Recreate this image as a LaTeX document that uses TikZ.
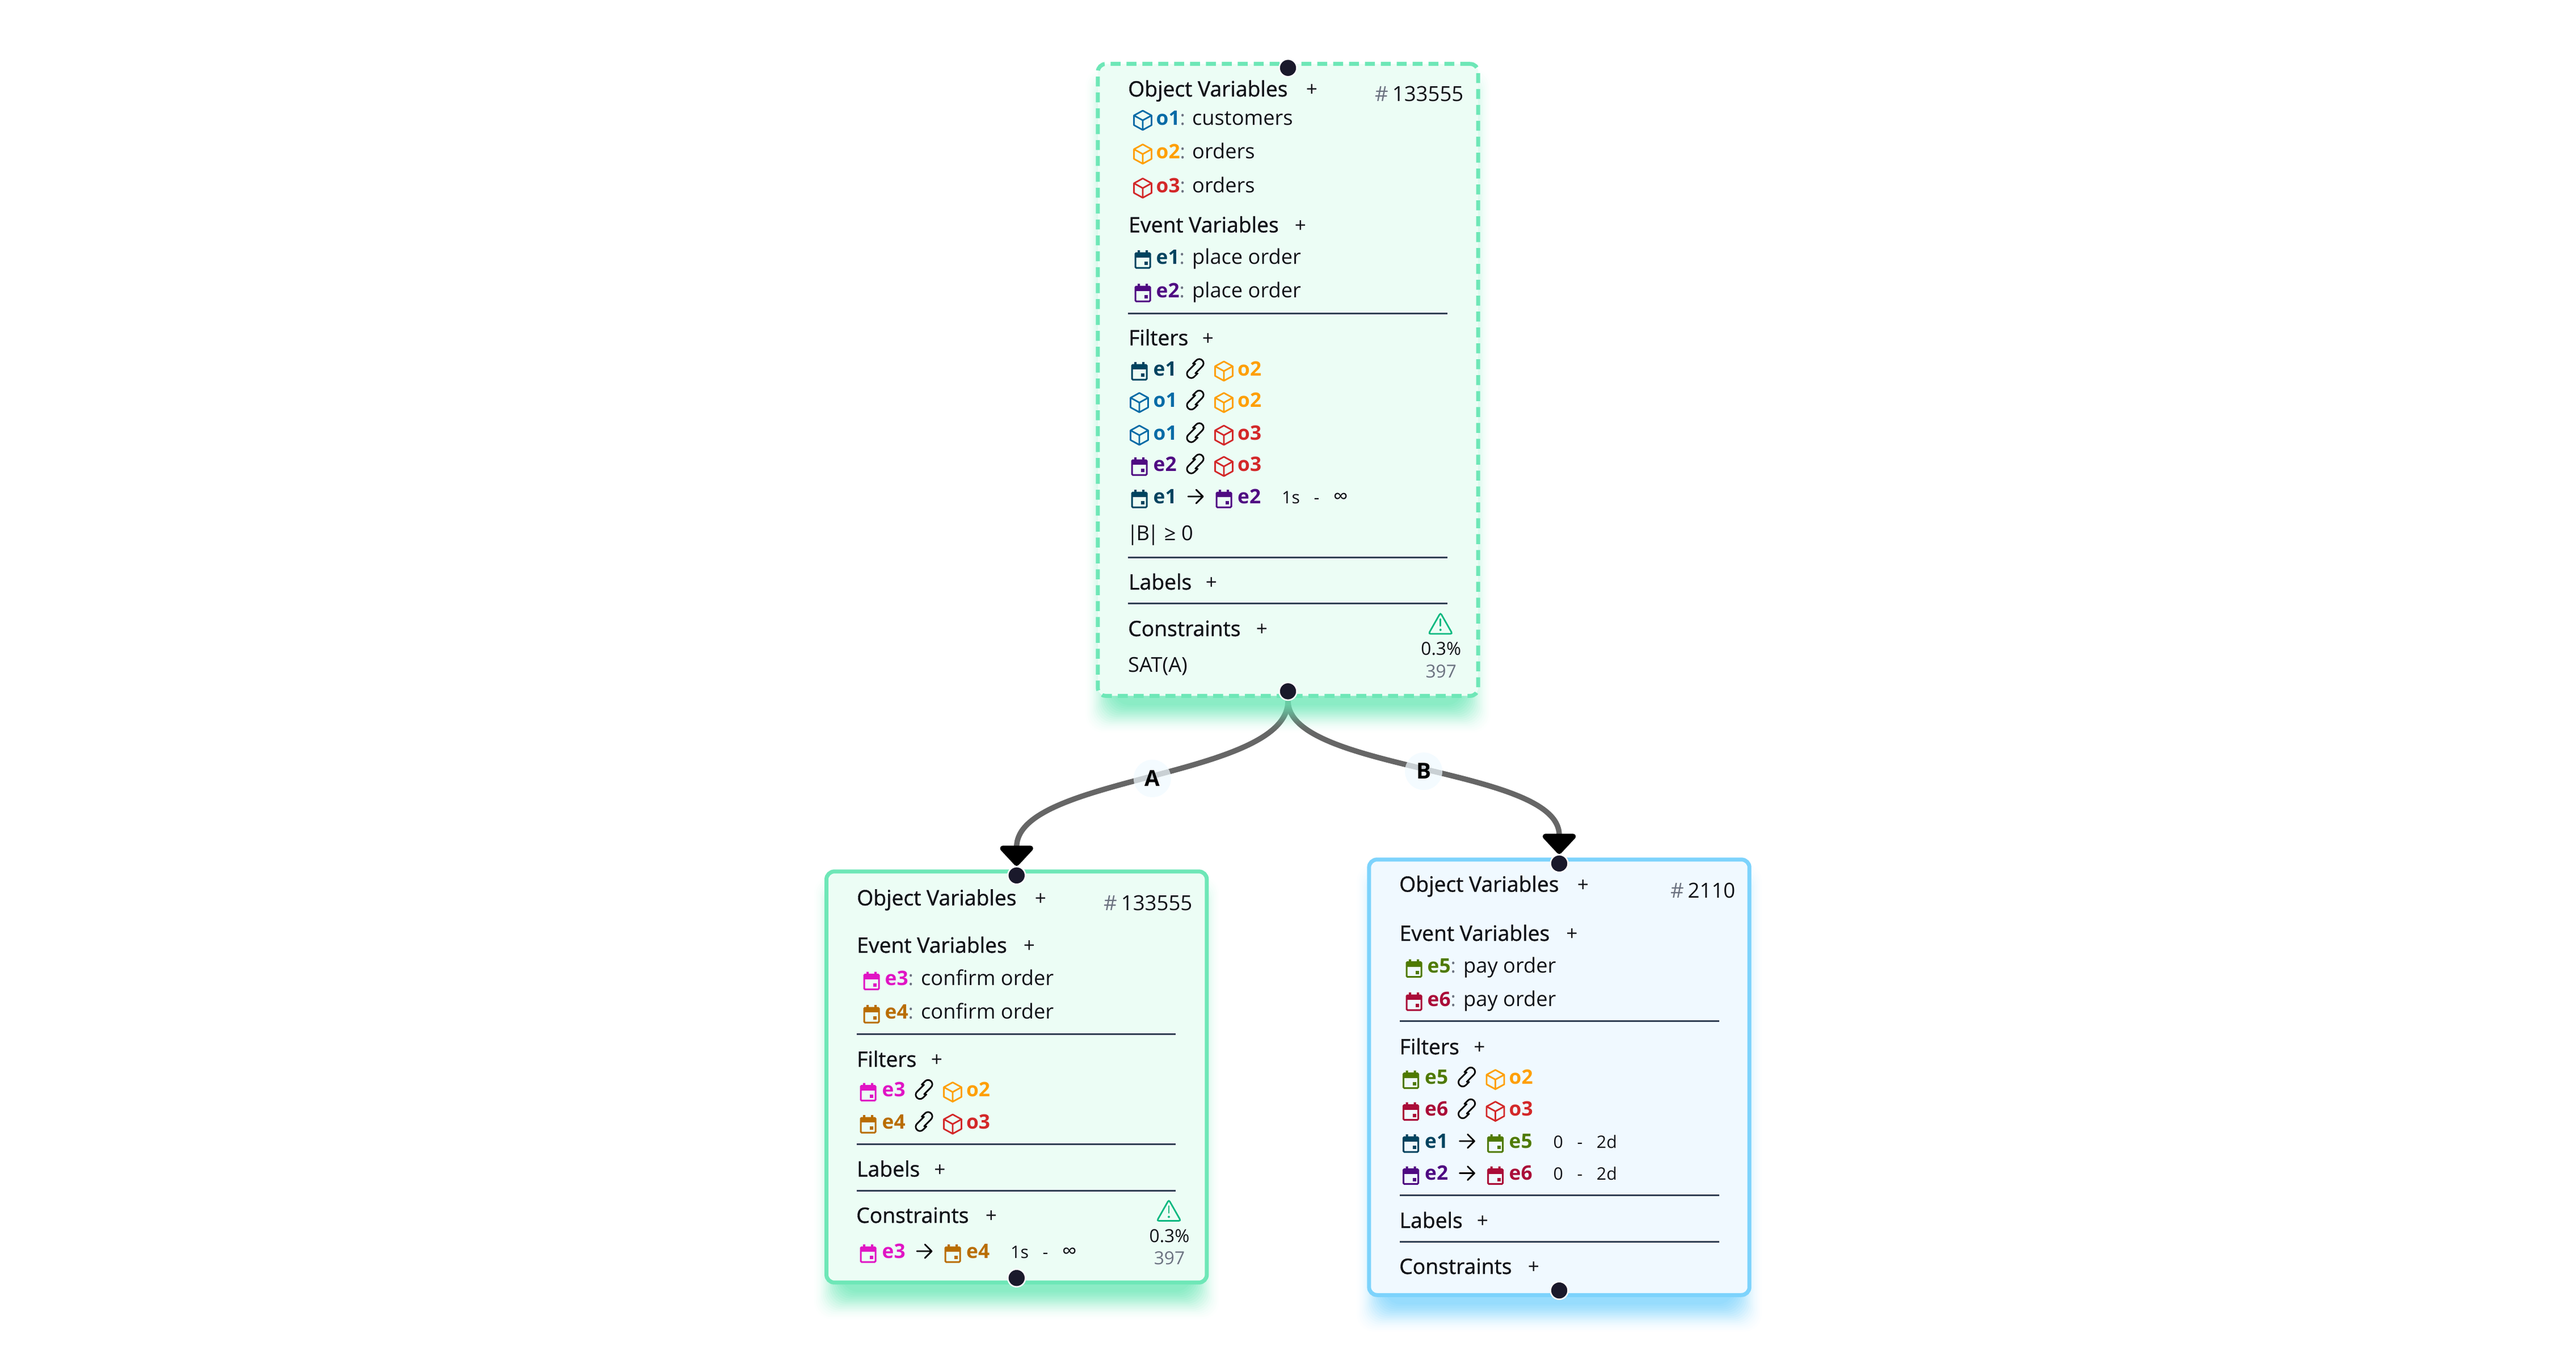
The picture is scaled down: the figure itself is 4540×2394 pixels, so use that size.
\documentclass[tikz,border=0pt]{standalone}
\usepackage{fontspec}
\setmainfont{Open Sans}
\newfontfamily\headfont[FakeBold=1]{Open Sans}
\usetikzlibrary{calc,arrows.meta}
\pgfdeclarelayer{edgelayer}
\pgfdeclarelayer{shadelayer}
\pgfsetlayers{edgelayer,shadelayer,main}
\definecolor{mint}{HTML}{6EE7B7}
\definecolor{mintbg}{HTML}{ECFDF5}
\definecolor{sky}{HTML}{7DD3FC}
\definecolor{skybg}{HTML}{F0F9FF}
\definecolor{ink}{HTML}{111318}
\definecolor{rulecol}{HTML}{334155}
\definecolor{muted}{HTML}{6B7280}
\definecolor{warncol}{HTML}{10B981}
\definecolor{handlecol}{HTML}{1A192B}
\definecolor{edgecol}{HTML}{666666}
\definecolor{o1}{HTML}{036BA6}
\definecolor{o2}{HTML}{FF9F00}
\definecolor{o3}{HTML}{D32829}
\definecolor{e1}{HTML}{00435F}
\definecolor{e2}{HTML}{4F0A82}
\definecolor{e3}{HTML}{E014C4}
\definecolor{e4}{HTML}{B96D00}
\definecolor{e5}{HTML}{4F7A00}
\definecolor{e6}{HTML}{AA0C38}
\tikzset{
  card/.style args={#1,#2}{
    rectangle,
    rounded corners=1.4mm,
    line width=.7mm,
    draw=#1,
    fill=#2,
    minimum width=67mm
  },
  handle/.style={circle,fill=handlecol,draw=white,line width=.25mm,minimum size=3.1mm,inner sep=0pt},
  edge/.style={draw=edgecol,line width=.95mm,-{Triangle[width=6.8mm,length=3.8mm,color=black,fill=black,round]}},
  edgelabel/.style={circle,fill=skybg,fill opacity=.72,text opacity=1,minimum size=6.6mm,inner sep=0pt,
    font=\fontsize{11}{12}\selectfont\bfseries,text=black},
  headtext/.style={anchor=base west,xshift=-.25mm,inner sep=0pt,text=ink,font=\fontsize{10.6}{12}\headfont},
  plustext/.style={inner sep=0pt,text=ink,font=\fontsize{10}{12}\selectfont},
  bodytext/.style={anchor=base west,xshift=-.25mm,inner sep=0pt,text=ink,font=\fontsize{10.3}{12}\selectfont},
  idtext/.style={anchor=base west,xshift=-.25mm,inner sep=0pt,font=\fontsize{10}{12}\selectfont\bfseries},
  timetext/.style={anchor=base west,xshift=-.25mm,inner sep=0pt,text=ink,font=\fontsize{8.6}{10}\selectfont},
  hashtext/.style={anchor=base east,inner sep=0pt,text=ink,font=\fontsize{10.4}{12}\selectfont},
  statstext/.style={anchor=base,inner sep=0pt,text=ink,font=\fontsize{9}{10}\selectfont},
  divider/.style={draw=rulecol,line width=.3mm},
  pics/cubeicon/.style={code={
    \draw[color=#1,line width=.28mm,line join=round]
      (0,-17) -- (15.5,-8.5) -- (15.5,8.5) -- (0,17) -- (-15.5,8.5) -- (-15.5,-8.5) -- cycle
      (-15.5,-8.5) -- (0,0) -- (15.5,-8.5) (0,0) -- (0,17);
  }},
  pics/calicon/.style={code={
    \draw[color=#1,line width=.3mm,rounded corners=.15mm] (-13,-11) rectangle (13,15);
    \fill[color=#1] (-13,-11) rectangle (13,-3);
    \fill[color=#1] (-9,-16) rectangle (-5,-10) (5,-16) rectangle (9,-10);
    \fill[color=#1] (3,4) rectangle (9,10);
  }},
  pics/linkicon/.style={code={
    \draw[line width=.28mm,color=black,rounded corners=.74mm,rotate=45,line cap=round]
      (3,-9) -- (19,-9) -- (19,6) -- (-6,6)
      (-3,9) -- (-19,9) -- (-19,-6) -- (6,-6);
  }},
  pics/nexticon/.style={code={
    \draw[line width=.28mm,color=black,line cap=round,line join=round]
      (-13,0) -- (13,0) (1,-12) -- (13,0) -- (1,12);
  }},
  pics/warnicon/.style={code={
    \draw[color=warncol,line width=.28mm,rounded corners=.35mm] (0,-19) -- (21,18) -- (-21,18) -- cycle;
    \draw[color=warncol,line width=.28mm,line cap=round] (0,-8) -- (0,4);
    \fill[color=warncol] (0,11) circle (2);
  }}
}
\newcommand{\infsym}{{\fontsize{10.4}{10}\selectfont ∞}}
% shadow under a card, drawn below the cards
\newcommand{\cardshadow}[2]{
  \begin{pgfonlayer}{shadelayer}
    \foreach \e/\a in {27/.014,24/.018,21/.025,18/.035,15/.045,12/.055,9/.065,6/.08,3/.09,0/.1,-3/.11,-6/.12,-9/.13,-12/.14,-15/.15,-18/.16,-21/.18}{
      \fill[color=#2,opacity=\a,rounded corners=3mm]
        ($(#1.south west)+(9-\e,\e+34)$) rectangle ($(#1.north east)+(\e-9,38-\e)$);
    }
  \end{pgfonlayer}
}
\newcommand{\headrow}[5]{
  \node [headtext] (#1) at (#2,#3) {#4};
  \node [plustext] (#1p) at (#5,#3-10.5) {+};
}
\newcommand{\varrow}[6]{
  \pic (#1i) at (#2,#3-8) {#4=#5};
  \node [idtext,text=#5] (#1a) at (#2+25.5,#3) {#5\textcolor{muted}{\mdseries:}};
  \node [bodytext] (#1b) at (#2+89,#3) {#6};
}
\newcommand{\linkrow}[7]{
  \pic (#1i) at (#2,#3-8) {#4=#5};
  \node [idtext,text=#5] (#1a) at (#2+26.5,#3) {#5};
  \pic (#1l) at (#2+98.5,#3-12.5) {linkicon};
  \pic (#1j) at (#2+149,#3-8) {#6=#7};
  \node [idtext,text=#7] (#1b) at (#2+175,#3) {#7};
}
\newcommand{\seqrow}[6]{
  \pic (#1i) at (#2,#3-8) {calicon=#4};
  \node [idtext,text=#4] (#1a) at (#2+26.5,#3) {#4};
  \pic (#1l) at (#2+99,#3-12) {nexticon};
  \pic (#1j) at (#2+149,#3-8) {calicon=#5};
  \node [idtext,text=#5] (#1b) at (#2+175,#3) {#5};
  \node [timetext] (#1t) at (#2+253,#3) {#6};
}
\newcommand{\statsbox}[4]{
  \pic (#1w) at (#2,#3) {warnicon};
  \node [statstext] (#1u) at (#2+1,#3+55.5) {0.3\%};
  \node [statstext,text=muted] (#1v) at (#2+1,#3+95) {397};
}

\begin{document}
\begin{tikzpicture}[x=.01cm,y=-.01cm]
  \useasboundingbox (0,0) rectangle (4540,2394);

  \node [card={mint,mintbg},dashed,dash pattern=on 1.75mm off 1.05mm,minimum height=111.3mm] (root) at (2270,669.5) {};
  \node [card={mint,mintbg},minimum height=72.4mm] (left) at (1791.7,1898) {};
  \node [card={sky,skybg},minimum height=76.7mm] (right) at (2748,1898.5) {};

  \cardshadow{root}{mint}
  \cardshadow{left}{mint}
  \cardshadow{right}{sky}

  \node [handle,yshift=-1.05mm] (rootin) at (root.north) {};
  \node [handle,yshift=1.15mm] (rootout) at (root.south) {};
  \node [handle,yshift=-1.05mm] (leftin) at (left.north) {};
  \node [handle,yshift=1.15mm] (leftout) at (left.south) {};
  \node [handle,yshift=-1.05mm] (rightin) at (right.north) {};
  \node [handle,yshift=1.15mm] (rightout) at (right.south) {};

  \begin{pgfonlayer}{edgelayer}
    \draw [edge] (rootout.south) .. controls +(0,136) and +(0,-159) .. node[edgelabel,pos=.5] (elA) {A} (leftin.north);
    \draw [edge] (rootout.south) .. controls +(0,124) and +(0,-153) .. node[edgelabel,pos=.5] (elB) {B} (rightin.north);
  \end{pgfonlayer}

  % root card
  \headrow{ra}{1990}{170}{Object Variables}{2312}
  \node [hashtext] (rh) at (2580,179) {\textcolor{muted}{\#}\hspace{2pt}133555};
  \varrow{r1}{2014}{220}{cubeicon}{o1}{customers}
  \varrow{r2}{2014}{279.5}{cubeicon}{o2}{orders}
  \varrow{r3}{2014}{339.5}{cubeicon}{o3}{orders}
  \headrow{rb}{1991}{409.5}{Event Variables}{2292}
  \varrow{r4}{2014}{465}{calicon}{e1}{place order}
  \varrow{r5}{2014}{524}{calicon}{e2}{place order}
  \draw [divider] (1988,552) -- (2551,552);
  \headrow{rc}{1991}{608.5}{Filters}{2129}
  \linkrow{r6}{2008}{662}{calicon}{e1}{cubeicon}{o2}
  \linkrow{r7}{2008}{717.5}{cubeicon}{o1}{cubeicon}{o2}
  \linkrow{r8}{2008}{775}{cubeicon}{o1}{cubeicon}{o3}
  \linkrow{r9}{2008}{830}{calicon}{e2}{cubeicon}{o3}
  \seqrow{r10}{2008}{887}{e1}{e2}{1s\hspace{7pt}-\hspace{7pt}\infsym}
  \node [bodytext] (rs) at (1988,952) {|\kern-1pt B\kern-1pt| ≥ 0};
  \draw [divider] (1988,982.5) -- (2551,982.5);
  \headrow{rd}{1991}{1039}{Labels}{2135}
  \draw [divider] (1988,1063.5) -- (2551,1063.5);
  \headrow{re}{1990}{1121}{Constraints}{2224}
  \node [bodytext] (rf) at (1990,1184) {SAT(A)};
  \statsbox{r}{2538.7}{1099}{}

  % left card
  \headrow{la}{1512}{1595.5}{Object Variables}{1834}
  \node [hashtext] (lh) at (2102,1604.5) {\textcolor{muted}{\#}\hspace{2pt}133555};
  \headrow{lb}{1512}{1679}{Event Variables}{1814}
  \varrow{l1}{1536}{1736.5}{calicon}{e3}{confirm order}
  \varrow{l2}{1536}{1795}{calicon}{e4}{confirm order}
  \draw [divider] (1510,1822) -- (2072,1822);
  \headrow{lc}{1512}{1880}{Filters}{1651}
  \linkrow{l3}{1530}{1932.5}{calicon}{e3}{cubeicon}{o2}
  \linkrow{l4}{1530}{1989}{calicon}{e4}{cubeicon}{o3}
  \draw [divider] (1510,2016) -- (2072,2016);
  \headrow{ld}{1512}{2073.5}{Labels}{1656.5}
  \draw [divider] (1510,2098) -- (2072,2098);
  \headrow{le}{1511}{2155}{Constraints}{1747}
  \seqrow{l5}{1530}{2217}{e3}{e4}{1s\hspace{7pt}-\hspace{7pt}\infsym}
  \statsbox{l}{2060}{2133.5}{}

  % right card
  \headrow{ma}{2468}{1571.5}{Object Variables}{2790}
  \node [hashtext] (mh) at (3059,1582) {\textcolor{muted}{\#}\hspace{2pt}2110};
  \headrow{mb}{2468.5}{1658}{Event Variables}{2770.5}
  \varrow{m1}{2492}{1714.5}{calicon}{e5}{pay order}
  \varrow{m2}{2492}{1773}{calicon}{e6}{pay order}
  \draw [divider] (2467,1799.5) -- (3030,1799.5);
  \headrow{mc}{2468.5}{1858}{Filters}{2607.5}
  \linkrow{m3}{2486.5}{1910.5}{calicon}{e5}{cubeicon}{o2}
  \linkrow{m4}{2486.5}{1966.5}{calicon}{e6}{cubeicon}{o3}
  \seqrow{m5}{2486.5}{2023}{e1}{e5}{0\hspace{7pt}-\hspace{7pt}2d}
  \seqrow{m6}{2486.5}{2079.5}{e2}{e6}{0\hspace{7pt}-\hspace{7pt}2d}
  \draw [divider] (2467,2106.5) -- (3030,2106.5);
  \headrow{md}{2468.5}{2164}{Labels}{2613}
  \draw [divider] (2467,2188) -- (3030,2188);
  \headrow{me}{2468}{2245}{Constraints}{2703}
\end{tikzpicture}
\end{document}
